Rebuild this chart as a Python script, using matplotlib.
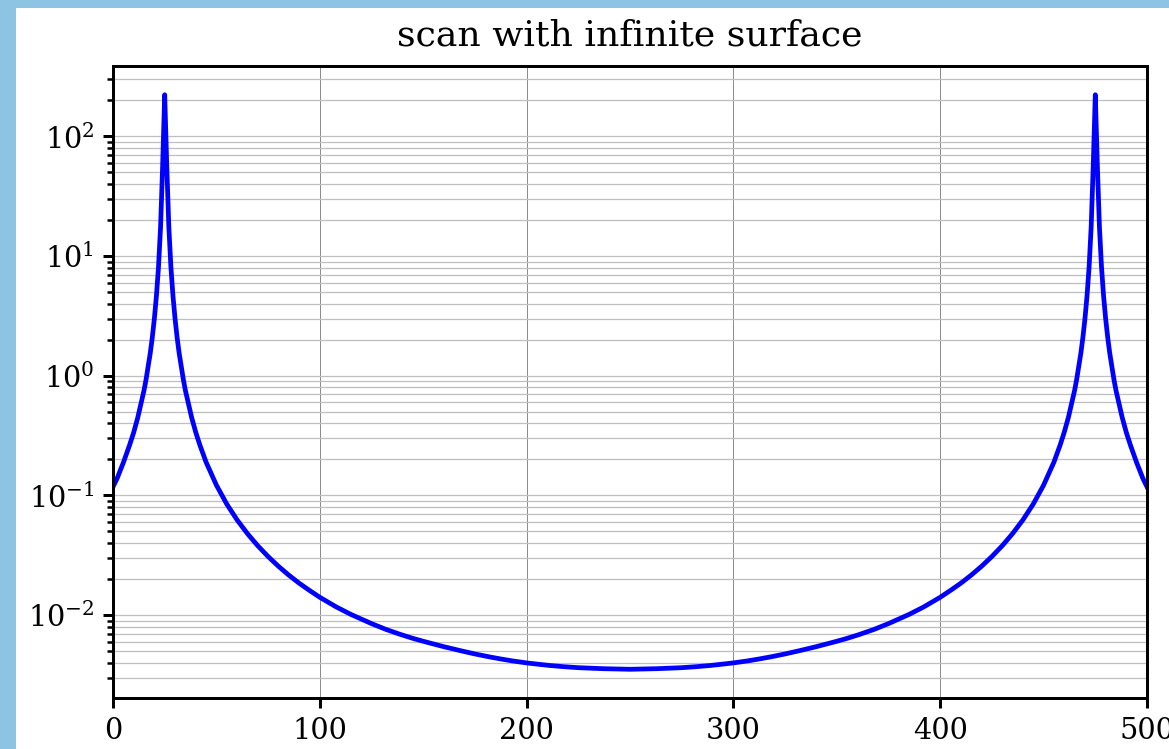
import matplotlib.pyplot as plt
import matplotlib.patches as patches

# scan positions and signal, left half (0..250)
left_x = [0, 2, 5, 8, 10, 12, 15, 16, 18, 19,
          20, 21, 22, 23, 24, 25, 26, 27, 28, 29,
          30, 31, 32, 34, 35, 38, 40, 42, 45, 50,
          55, 60, 65, 70, 75, 80, 85, 90, 95, 100,
          108, 115, 125, 132, 139, 145, 150, 160, 168, 175,
          182, 187, 193, 200, 205, 211, 218, 225, 237, 250]
left_y = [0.118, 0.139, 0.188, 0.263, 0.336, 0.449, 0.755, 0.934, 1.54, 2.09,
          3.0, 4.65, 8.1, 17.5, 56.7, 223, 56.7, 17.5, 8.1, 4.65,
          3.0, 2.09, 1.54, 0.934, 0.755, 0.450, 0.338, 0.264, 0.190, 0.122,
          0.0848, 0.0625, 0.0480, 0.0380, 0.0309, 0.0256, 0.0216, 0.0185, 0.0161, 0.0141,
          0.0117, 0.01015, 0.0085, 0.0076, 0.0069, 0.0064, 0.00605, 0.00545, 0.00505, 0.00474,
          0.00448, 0.00432, 0.00415, 0.00399, 0.0039, 0.0038, 0.00371, 0.00364, 0.00357, 0.00353]

# right half (263..500)
right_x = [263, 275, 282, 289, 295, 300, 307, 313, 318, 325,
           332, 340, 350, 355, 361, 368, 375, 385, 392, 400,
           405, 410, 415, 420, 425, 430, 435, 440, 445, 450,
           455, 458, 460, 462, 465, 466, 468, 469, 470, 471,
           472, 473, 474, 475, 476, 477, 478, 479, 480, 481,
           482, 484, 485, 488, 490, 492, 495, 498, 500]
right_y = [0.00357, 0.00364, 0.00371, 0.0038, 0.0039, 0.00399, 0.00415, 0.00432, 0.00448, 0.00474,
           0.00505, 0.00545, 0.00605, 0.0064, 0.0069, 0.0076, 0.0085, 0.01015, 0.0117, 0.0141,
           0.0161, 0.0185, 0.0216, 0.0256, 0.0309, 0.0380, 0.0480, 0.0625, 0.0848, 0.122,
           0.190, 0.264, 0.338, 0.450, 0.755, 0.934, 1.54, 2.09, 3.0, 4.65,
           8.1, 17.5, 56.7, 223, 56.7, 17.5, 8.1, 4.65, 3.0, 2.09,
           1.54, 0.934, 0.755, 0.449, 0.336, 0.263, 0.188, 0.139, 0.118]

plt.rcParams['font.family'] = 'DejaVu Serif'
plt.rcParams['mathtext.fontset'] = 'dejavuserif'

fig = plt.figure(figsize=(1169 / 180, 749 / 180), dpi=180, facecolor='#8dc3e3')
# white page area (the screenshot shows a blue border left and top)
fig.patches.append(patches.Rectangle((16 / 1169, 0), 1, 1 - 8 / 749,
                                     transform=fig.transFigure,
                                     facecolor='white', edgecolor='none',
                                     zorder=-1))

ax = fig.add_axes([113 / 1169, 1 - 698 / 749, (1147 - 113) / 1169, (698 - 66) / 749])
ax.plot(left_x + right_x, left_y + right_y, color='blue', lw=1.9)
ax.set_yscale('log')
ax.set_xlim(0, 500)
ax.grid(True, which='major', axis='x', color='0.55', lw=0.4)
ax.grid(True, which='both', axis='y', color='0.75', lw=0.5)
for s in ax.spines.values():
    s.set_linewidth(1.2)
ax.tick_params(which='major', labelsize=11.5, width=1.2, length=4)
ax.tick_params(which='minor', width=1.0, length=2.4)
ax.set_title('scan with infinite surface', fontsize=14.5, pad=8)

fig.savefig('out.png', dpi=180, facecolor=fig.get_facecolor())
